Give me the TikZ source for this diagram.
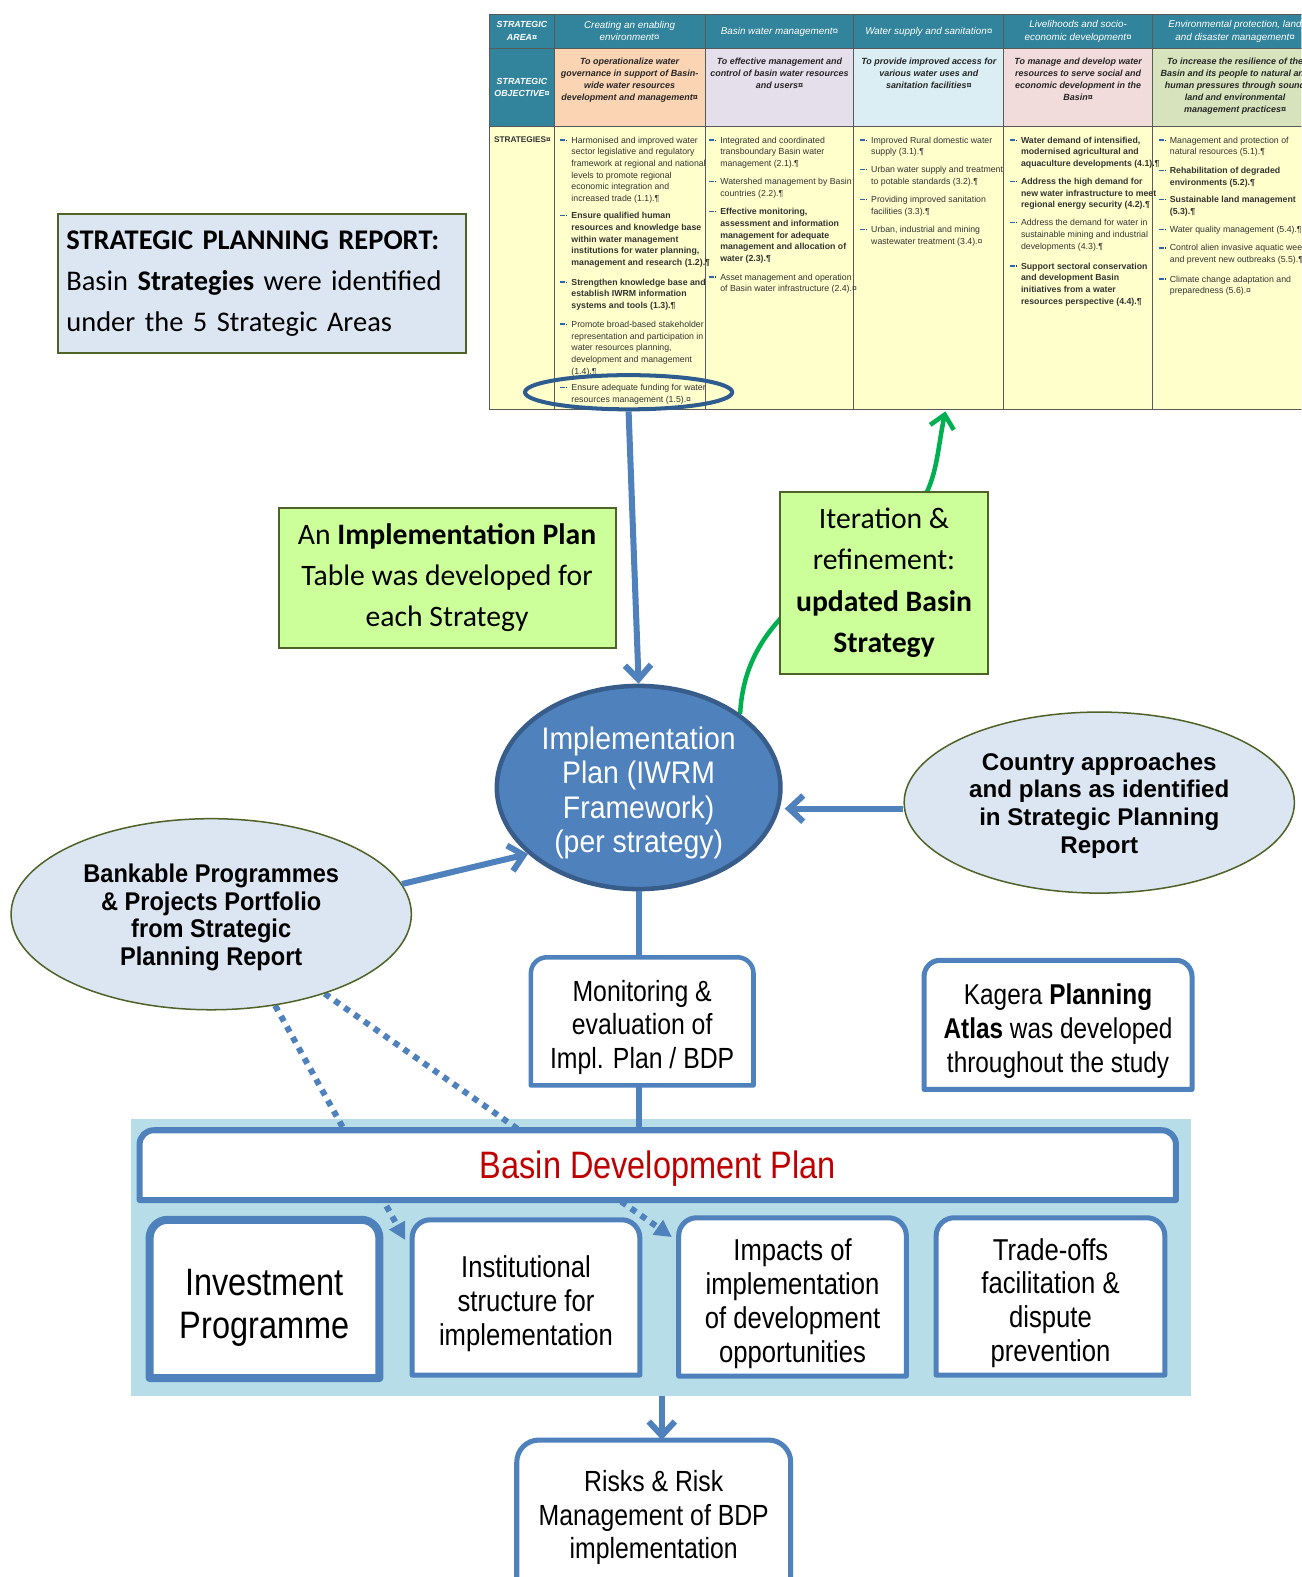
\documentclass[tikz,border=0pt]{standalone}
\usepackage{fontspec}
\usetikzlibrary{arrows.meta,shapes.geometric}
\newfontfamily\fnNar[FakeStretch=0.85]{Liberation Sans}
\newfontfamily\fnNarW[FakeStretch=0.91]{Liberation Sans}
\newfontfamily\fnAri{Liberation Sans}
\newfontfamily\fnBk[FakeStretch=0.92]{Liberation Sans}
\newfontfamily\fnCal{Carlito}

\definecolor{lnblue}{HTML}{4F81BD}
\definecolor{ipdraw}{HTML}{385D8A}
\definecolor{hlblue}{HTML}{2F5C8F}
\definecolor{lgreen}{HTML}{CCFF99}
\definecolor{olv}{HTML}{4F6228}
\definecolor{paleblue}{HTML}{DCE6F2}
\definecolor{bandc}{HTML}{B7DDE8}
\definecolor{gline}{HTML}{00B050}
\definecolor{bdpred}{HTML}{C00000}
\definecolor{tbteal}{HTML}{31849B}
\definecolor{peach}{HTML}{FBD4B4}
\definecolor{lav}{HTML}{E5DFEC}
\definecolor{lblu}{HTML}{DAEEF3}
\definecolor{pnk}{HTML}{F2DBDB}
\definecolor{lgrn}{HTML}{D6E3BC}
\definecolor{ylw}{HTML}{FFFFCC}
\definecolor{gridc}{HTML}{595959}
\definecolor{bulc}{HTML}{2F64B0}

\pgfdeclarelayer{bg}
\pgfdeclarelayer{lines}
\pgfdeclarelayer{mid}
\pgfsetlayers{bg,lines,mid,main}

\newcommand\tbul{\llap{\textcolor{bulc}{\rule[2.4pt]{5pt}{1.5pt}}\hspace{1pt}\rule[2.4pt]{1.2pt}{1.2pt}\hspace{4pt}}}
\newcommand\dn[1]{\rule{0pt}{#1}}
\newcommand\rtb[3]{\begin{pgfonlayer}{mid}\filldraw[fill=white,draw=lnblue,line width=#1,line join=round] (#2.south west) -- ([yshift=-#3]#2.north west) arc[start angle=180,end angle=90,radius=#3] -- ([xshift=-#3]#2.north east) arc[start angle=90,end angle=0,radius=#3] -- (#2.south east) -- cycle;\end{pgfonlayer}}

\tikzset{
 hdr/.style={font=\fnAri\itshape\fontsize{9.8}{12.5}\selectfont, text=white, align=center, inner sep=0},
 hdrb/.style={font=\fnAri\bfseries\itshape\fontsize{8.8}{12.5}\selectfont, text=white, align=center, inner sep=0},
 obj/.style={font=\fnAri\bfseries\itshape\fontsize{8.9}{12}\selectfont, text=black!85, align=center, inner sep=0, anchor=north},
 strat/.style={font=\fnAri\fontsize{8.7}{11.6}\selectfont, text=black!80, align=left, inner sep=0, anchor=north west},
 stratb/.style={strat, font=\fnAri\bfseries\fontsize{8.7}{11.6}\selectfont},
 gridl/.style={draw=gridc, line width=1pt},
 gbox/.style={draw=olv, line width=2pt, fill=lgreen, align=center, inner sep=0, font=\fnCal\fontsize{29.5}{41}\selectfont},
 tbox/.style={inner sep=0, align=center, font=\fnNar\fontsize{29}{33.5}\selectfont},
 pell/.style={ellipse, fill=paleblue, draw=olv, line width=1.5pt, inner sep=0, align=center},
 barr/.style={draw=lnblue, line width=6pt, -{Straight Barb[length=14pt,width=26pt]}},
 bline/.style={draw=lnblue, line width=6pt},
 dotarr/.style={draw=lnblue, line width=6pt, dash pattern=on 6pt off 6pt, -{Triangle[length=17pt,width=17pt]}},
 garr/.style={draw=gline, line width=4.5pt, -{Straight Barb[length=13pt,width=24pt]}}
}

\begin{document}
\begin{tikzpicture}[x=1pt,y=-1pt]
\useasboundingbox (0,0) rectangle (1294,1568);

\begin{pgfonlayer}{bg}
\fill[white] (0,0) rectangle (1294,1568);
% ---------- table ----------
\begin{scope}
\clip (480,0) rectangle (1294,420);
\fill[tbteal] (487,14) rectangle (1300,48.5);
\fill[tbteal] (487,48.5) rectangle (551,126);
\fill[peach] (551,48.5) rectangle (701,126);
\fill[lav] (701,48.5) rectangle (849,126);
\fill[lblu] (849,48.5) rectangle (998,126);
\fill[pnk] (998,48.5) rectangle (1146,126);
\fill[lgrn] (1146,48.5) rectangle (1300,126);
\fill[ylw] (487,126) rectangle (1300,407);
\draw[gridl] (487,14) rectangle (1300,407);
\draw[gridl] (487,48.5) -- (1300,48.5);
\draw[gridl] (487,126) -- (1300,126);
\foreach \xx in {551,701,849,998,1146} {\draw[gridl] (\xx,14) -- (\xx,407);}

\node[hdrb] (a0) at (519,31) {STRATEGIC\\AREA¤};
\node[hdr] (a1) at (626,31) {Creating an enabling\\environment¤};
\node[hdr] (a2) at (775,32) {Basin water management¤};
\node[hdr] (a3) at (923.5,32) {Water supply and sanitation¤};
\node[hdr] (a4) at (1072,31) {Livelihoods and socio-\\economic development¤};
\node[hdr] (a5) at (1228,31) {Environmental protection, land\\and disaster management¤};

\node[hdrb] (o0) at (519,87) {STRATEGIC\\OBJECTIVE¤};
\node[obj] (o1) at (626,57) {To operationalize water\\governance in support of Basin-\\wide water resources\\development and management¤};
\node[obj] (o2) at (775,57) {To effective management and\\control of basin water resources\\and users¤};
\node[obj] (o3) at (923.5,57) {To provide improved access for\\various water uses and\\sanitation facilities¤};
\node[obj] (o4) at (1072,57) {To manage and develop water\\resources to serve social and\\economic development in the\\Basin¤};
\node[obj] (o5) at (1228,57) {To increase the resilience of the\\Basin and its people to natural and\\human pressures through sound\\land and environmental\\management practices¤};

\node[strat, font=\fnAri\bfseries\fontsize{8.2}{11}\selectfont] (st0) at (491,136) {STRATEGIES¤};

\node[strat] (s11) at (568,136) {\tbul Harmonised and improved water\\sector legislative and regulatory\\framework at regional and national\\levels to promote regional\\economic integration and\\increased trade (1.1).¶};
\node[stratb] (s12) at (568,211) {\tbul Ensure qualified human\\resources and knowledge base\\within water management\\institutions for water planning,\\management and research (1.2).¶};
\node[stratb] (s13) at (568,277) {\tbul Strengthen knowledge base and\\establish IWRM information\\systems and tools (1.3).¶};
\node[strat] (s14) at (568,319) {\tbul Promote broad-based stakeholder\\representation and participation in\\water resources planning,\\development and management\\(1.4).¶};
\node[strat] (s15) at (568,382) {\tbul Ensure adequate funding for water\\resources management (1.5).¤};

\node[strat] (s21) at (716,136) {\tbul Integrated and coordinated\\transboundary Basin water\\management (2.1).¶};
\node[strat] (s22) at (716,177) {\tbul Watershed management by Basin\\countries (2.2).¶};
\node[stratb] (s23) at (716,207) {\tbul Effective monitoring,\\assessment and information\\management for adequate\\management and allocation of\\water (2.3).¶};
\node[strat] (s24) at (716,272) {\tbul Asset management and operation\\of Basin water infrastructure (2.4).¤};

\node[strat] (s31) at (866,136) {\tbul Improved Rural domestic water\\supply (3.1).¶};
\node[strat] (s32) at (866,165) {\tbul Urban water supply and treatment\\to potable standards (3.2).¶};
\node[strat] (s33) at (866,195) {\tbul Providing improved sanitation\\facilities (3.3).¶};
\node[strat] (s34) at (866,225) {\tbul Urban, industrial and mining\\wastewater treatment (3.4).¤};

\node[stratb] (s41) at (1015,136) {\tbul Water demand of intensified,\\modernised agricultural and\\aquaculture developments (4.1).¶};
\node[stratb] (s42) at (1015,177) {\tbul Address the high demand for\\new water infrastructure to meet\\regional energy security (4.2).¶};
\node[strat] (s43) at (1015,218) {\tbul Address the demand for water in\\sustainable mining and industrial\\developments (4.3).¶};
\node[stratb] (s44) at (1015,261) {\tbul Support sectoral conservation\\and development Basin\\initiatives from a water\\resources perspective (4.4).¶};

\node[strat] (s51) at (1163,136) {\tbul Management and protection of\\natural resources (5.1).¶};
\node[stratb] (s52) at (1163,166) {\tbul Rehabilitation of degraded\\environments (5.2).¶};
\node[stratb] (s53) at (1163,195) {\tbul Sustainable land management\\(5.3).¶};
\node[strat] (s54) at (1163,225) {\tbul Water quality management (5.4).¶};
\node[strat] (s55) at (1163,243) {\tbul Control alien invasive aquatic weeds\\and prevent new outbreaks (5.5).¶};
\node[strat] (s56) at (1163,274) {\tbul Climate change adaptation and\\preparedness (5.6).¤};
\end{scope}
% ---------- band ----------
\node[fill=bandc, minimum width=1054pt, minimum height=275pt, inner sep=0] (band) at (657,1250.5) {};
\end{pgfonlayer}

\coordinate (gtip) at (940,409);
\coordinate (gmid) at (895,522);
\coordinate (t1) at (403,1233);
\coordinate (t2) at (668,1230);

% ---------- main nodes ----------
\node[draw=hlblue, line width=4pt, ellipse, minimum width=206pt, minimum height=34pt, inner sep=0] (hl) at (625,390) {};

\node[draw=olv, line width=2pt, fill=paleblue, minimum width=405pt, minimum height=138pt, text width=389pt, inner xsep=8pt, inner ysep=0pt, align=left, font=\fnCal\fontsize{28.3}{41}\selectfont] (spr) at (260.5,282) {\textbf{STRATEGIC PLANNING REPORT:}\\Basin \textbf{Strategies} were identified\\under the 5 Strategic Areas};

\node[gbox, minimum width=335pt, minimum height=139pt] (ipt) at (444.5,574.5) {An \textbf{Implementation Plan}\\Table was developed for\\each Strategy};
\node[gbox, minimum width=206pt, minimum height=181pt] (itr) at (879,579.5) {Iteration \&\\refinement:\\\textbf{updated Basin}\\\textbf{Strategy}};

\node[ellipse, fill=lnblue, draw=ipdraw, line width=4.5pt, minimum width=282pt, minimum height=202pt, inner sep=0, text=white, align=center, font=\fnNarW\fontsize{31}{34.3}\selectfont] (ip) at (635,783) {\dn{33pt}Implementation\\Plan (IWRM\\Framework)\\(per strategy)};

\node[pell, minimum width=388pt, minimum height=180pt, font=\fnAri\bfseries\fontsize{24}{27.7}\selectfont] (cty) at (1093,798) {\dn{23.5pt}Country approaches\\and plans as identified\\in Strategic Planning\\Report};

\node[pell, minimum width=398pt, minimum height=190pt, font=\fnBk\bfseries\fontsize{25.5}{27.5}\selectfont] (bank) at (210,909) {\dn{24.6pt}Bankable Programmes\\\& Projects Portfolio\\from Strategic\\Planning Report};

\node[tbox, minimum width=221pt, minimum height=127pt] (mon) at (638.5,1015.5) {\dn{33pt}Monitoring \&\\evaluation of\\Impl. Plan / BDP};
\rtb{4.5pt}{mon}{16pt}
\node[tbox, minimum width=266pt, minimum height=128pt, font=\fnNar\fontsize{28.5}{33.5}\selectfont] (kag) at (1052,1019) {\dn{33pt}Kagera \textbf{Planning}\\\textbf{Atlas} was developed\\throughout the study};
\rtb{5pt}{kag}{16pt}

\node[tbox, minimum width=1030pt, minimum height=69pt, text=bdpred, font=\fnNar\fontsize{38}{43}\selectfont] (bdp) at (654,1158.5) {\dn{34pt}Basin Development Plan};
\rtb{6pt}{bdp}{14pt}

\node[tbox, minimum width=228pt, minimum height=157pt, font=\fnNar\fontsize{38}{43}\selectfont] (inv) at (263,1291.5) {\dn{44pt}Investment\\Programme};
\rtb{8pt}{inv}{18pt}
\node[tbox, minimum width=226pt, minimum height=154pt, font=\fnNar\fontsize{30}{33.7}\selectfont] (inst) at (523,1290) {\dn{35pt}Institutional\\structure for\\implementation};
\rtb{5pt}{inst}{18pt}
\node[tbox, minimum width=226pt, minimum height=157pt, font=\fnNar\fontsize{30}{33.7}\selectfont] (imp) at (788,1289.5) {\dn{35pt}Impacts of\\implementation\\of development\\opportunities};
\rtb{5pt}{imp}{18pt}
\node[tbox, minimum width=227pt, minimum height=156pt, font=\fnNar\fontsize{30}{33.7}\selectfont] (trd) at (1044.5,1289) {\dn{35pt}Trade-offs\\facilitation \&\\dispute\\prevention};
\rtb{5pt}{trd}{18pt}

\node[tbox, minimum width=272pt, minimum height=148pt] (risks) at (650,1506) {\dn{27pt}Risks \& Risk\\Management of BDP\\implementation};
\rtb{5pt}{risks}{22pt}

% ---------- connectors ----------
\begin{pgfonlayer}{lines}
\draw[dotarr] (bank.305) -- (t1);
\draw[dotarr] (bank.325) -- (t2);
\draw[garr] (ip.36) to[out=87,in=218] (gmid) to[out=38,in=258] (gtip);
\end{pgfonlayer}

\draw[barr] (hl.south) -- (ip.north);
\draw[barr] ([yshift=-6pt]cty.west) -- ([xshift=2pt,yshift=-21pt]ip.east);
\draw[barr] (bank.9) -- (ip.211);
\draw[bline] (ip.south) -- (ip.south |- mon.north);
\draw[bline] (ip.south |- mon.south) -- (ip.south |- bdp.north);
\draw[barr] ([xshift=8pt]risks.north |- band.south) -- ([xshift=8pt]risks.north);
\end{tikzpicture}
\end{document}
